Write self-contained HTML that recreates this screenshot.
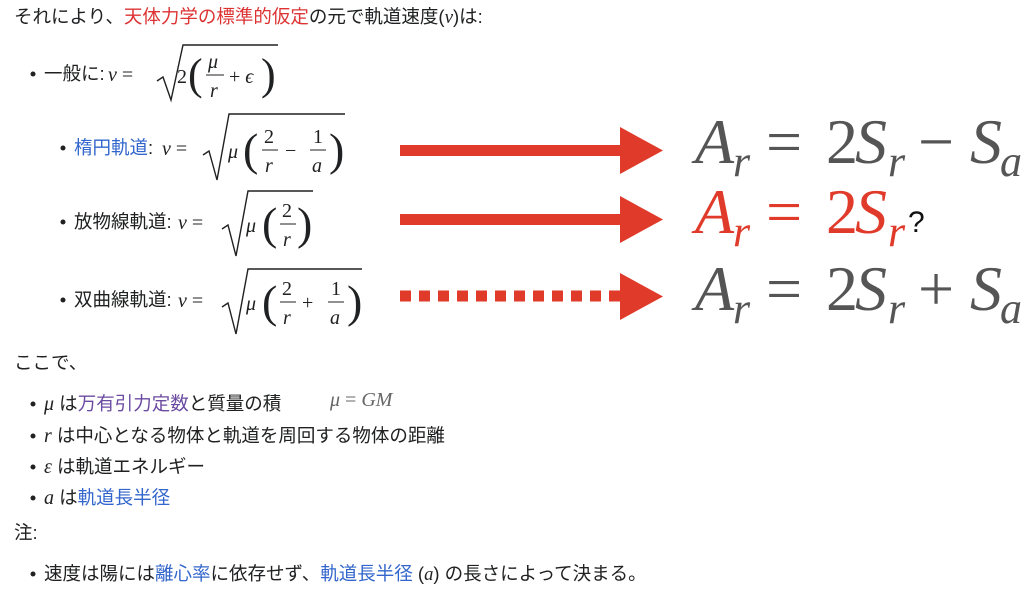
<!DOCTYPE html>
<html><head><meta charset="utf-8"><style>
html,body{margin:0;padding:0;background:#fff}
svg{display:block}
.j{font-family:"Liberation Sans","Noto Sans CJK JP",sans-serif;font-size:18.5px;fill:#202122}
.m{font-family:"Liberation Serif",serif;font-size:20px;fill:#202122}
.i{font-style:italic}
.b{fill:#3366cc}
.p{fill:#6b4ba1}
.rd{fill:#d33}
.big{font-family:"Liberation Serif",serif;font-size:64px;fill:#555}
.sub{font-size:44px;font-style:italic}
</style></head><body>
<svg width="1024" height="595" xmlns="http://www.w3.org/2000/svg">
<text class="j" x="14" y="23">それにより、<tspan class="rd">天体力学の標準的仮定</tspan>の元で軌道速度(<tspan class="i" font-family="Liberation Serif" style="font-size:19px">v</tspan>)は:</text>

<!-- general -->
<circle cx="33" cy="74" r="2.5" fill="#202122"/>
<text class="j" x="44" y="80">一般に:</text>
<text class="m" x="108" y="81"><tspan class="i">v</tspan> =</text>
<path d="M157,81 L163,77 L171,100 L183,45 L278,45" stroke="#202122" stroke-width="1.4" fill="none"/>
<text class="m" x="177" y="83">2</text>
<text class="m" x="188" y="89" style="font-size:44px">(</text>
<text class="m i" x="208" y="68">μ</text>
<line x1="206" y1="75" x2="224" y2="75" stroke="#202122" stroke-width="1"/>
<text class="m i" x="210" y="97">r</text>
<text class="m" x="229" y="83">+ <tspan class="i">ϵ</tspan></text>
<text class="m" x="261" y="89" style="font-size:44px">)</text>

<!-- ellipse -->
<circle cx="63" cy="148" r="2.5" fill="#202122"/>
<text class="j b" x="74" y="154">楕円軌道</text><text class="j" x="148" y="154">:</text>
<text class="m" x="162" y="155"><tspan class="i">v</tspan> =</text>
<path d="M203,155 L209,151 L217,180 L229,114 L345,114" stroke="#202122" stroke-width="1.4" fill="none"/>
<text class="m i" x="228" y="158">μ</text>
<text class="m" x="243" y="165" style="font-size:46px">(</text>
<text class="m" x="264" y="143">2</text>
<line x1="262" y1="150" x2="278" y2="150" stroke="#202122"/>
<text class="m i" x="265" y="172">r</text>
<text class="m" x="285" y="157">−</text>
<text class="m" x="313" y="143">1</text>
<line x1="310" y1="150" x2="326" y2="150" stroke="#202122"/>
<text class="m i" x="312" y="172">a</text>
<text class="m" x="329" y="165" style="font-size:46px">)</text>

<!-- parabola -->
<circle cx="63" cy="222" r="2.5" fill="#202122"/>
<text class="j" x="74" y="228">放物線軌道:</text>
<text class="m" x="178" y="229"><tspan class="i">v</tspan> =</text>
<path d="M222,229 L228,225 L236,256 L248,191 L313,191" stroke="#202122" stroke-width="1.4" fill="none"/>
<text class="m i" x="246" y="232">μ</text>
<text class="m" x="262" y="239" style="font-size:46px">(</text>
<text class="m" x="282" y="217">2</text>
<line x1="280" y1="224" x2="296" y2="224" stroke="#202122"/>
<text class="m i" x="283" y="246">r</text>
<text class="m" x="297" y="239" style="font-size:46px">)</text>

<!-- hyperbola -->
<circle cx="63" cy="300" r="2.5" fill="#202122"/>
<text class="j" x="74" y="306">双曲線軌道:</text>
<text class="m" x="178" y="307"><tspan class="i">v</tspan> =</text>
<path d="M222,307 L228,303 L236,334 L248,269 L362,269" stroke="#202122" stroke-width="1.4" fill="none"/>
<text class="m i" x="246" y="310">μ</text>
<text class="m" x="262" y="317" style="font-size:46px">(</text>
<text class="m" x="282" y="295">2</text>
<line x1="280" y1="302" x2="296" y2="302" stroke="#202122"/>
<text class="m i" x="283" y="324">r</text>
<text class="m" x="302" y="309">+</text>
<text class="m" x="331" y="295">1</text>
<line x1="328" y1="302" x2="344" y2="302" stroke="#202122"/>
<text class="m i" x="330" y="324">a</text>
<text class="m" x="347" y="317" style="font-size:46px">)</text>

<!-- arrows -->
<rect x="400" y="145" width="222" height="11" fill="#e03a2a"/>
<polygon points="620,127 663,150.5 620,174" fill="#e03a2a"/>
<rect x="400" y="214" width="222" height="11" fill="#e03a2a"/>
<polygon points="620,196 663,219.5 620,243" fill="#e03a2a"/>
<line x1="400" y1="296" x2="622" y2="296" stroke="#e03a2a" stroke-width="11" stroke-dasharray="11,8"/>
<polygon points="620,273 663,296.5 620,320" fill="#e03a2a"/>

<!-- big formulas -->
<g class="big">
<text x="695" y="163" font-style="italic">A</text><text x="733" y="176" class="sub">r</text>
<text x="766" y="163">=</text><text x="826" y="163">2</text><text x="855" y="163" font-style="italic">S</text><text x="888" y="176" class="sub">r</text>
<text x="918" y="163">−</text><text x="970" y="163" font-style="italic">S</text><text x="1000" y="176" class="sub">a</text>

<text x="695" y="233" font-style="italic" fill="#e03a2a">A</text><text x="733" y="246" class="sub" fill="#e03a2a">r</text>
<text x="766" y="233" fill="#e03a2a">=</text><text x="826" y="233" fill="#e03a2a">2</text><text x="855" y="233" font-style="italic" fill="#e03a2a">S</text><text x="888" y="246" class="sub" fill="#e03a2a">r</text>
<text x="908" y="232" font-family="Liberation Sans" style="font-size:30px" fill="#111">?</text>

<text x="695" y="310" font-style="italic">A</text><text x="733" y="323" class="sub">r</text>
<text x="766" y="310">=</text><text x="826" y="310">2</text><text x="855" y="310" font-style="italic">S</text><text x="888" y="323" class="sub">r</text>
<text x="918" y="310">+</text><text x="970" y="310" font-style="italic">S</text><text x="1000" y="323" class="sub">a</text>
</g>

<text class="j" x="14" y="369">ここで、</text>
<circle cx="33" cy="404" r="2.5" fill="#202122"/>
<text class="j" x="44" y="410"><tspan class="i" font-family="Liberation Serif" style="font-size:20px">μ</tspan> は<tspan class="p">万有引力定数</tspan>と質量の積</text>
<text class="m i" x="330" y="406" style="fill:#666">μ <tspan font-style="normal">=</tspan> GM</text>
<circle cx="33" cy="436" r="2.5" fill="#202122"/>
<text class="j" x="44" y="442"><tspan class="i" font-family="Liberation Serif" style="font-size:20px">r</tspan> は中心となる物体と軌道を周回する物体の距離</text>
<circle cx="33" cy="467" r="2.5" fill="#202122"/>
<text class="j" x="44" y="473"><tspan class="i" font-family="Liberation Serif" style="font-size:20px">ε</tspan> は軌道エネルギー</text>
<circle cx="33" cy="498" r="2.5" fill="#202122"/>
<text class="j" x="44" y="504"><tspan class="i" font-family="Liberation Serif" style="font-size:20px">a</tspan> は<tspan class="b">軌道長半径</tspan></text>
<text class="j" x="14" y="539">注:</text>
<circle cx="33" cy="574" r="2.5" fill="#202122"/>
<text class="j" x="44" y="580">速度は陽には<tspan class="b">離心率</tspan>に依存せず、<tspan class="b">軌道長半径</tspan> (<tspan class="i" font-family="Liberation Serif">a</tspan>) の長さによって決まる。</text>
</svg>
</body></html>
